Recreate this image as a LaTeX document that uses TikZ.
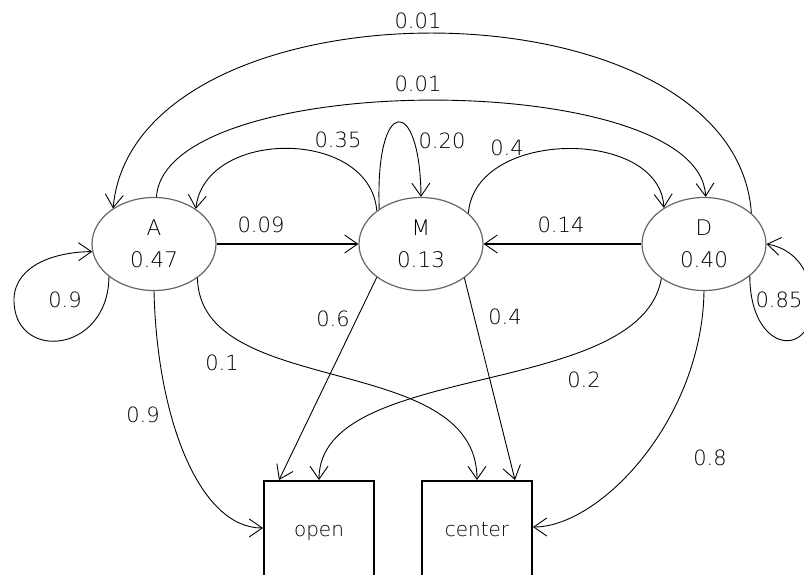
\documentclass[tikz,border=0pt]{standalone}
\usepackage{fontspec}
\setmainfont{DejaVu Sans ExtraLight}
\usetikzlibrary{shapes.geometric,arrows.meta}
\begin{document}
\begin{tikzpicture}[x=1pt,y=-1pt,
  st/.style={ellipse, draw=black!60, line width=1.2pt, fill=white, minimum width=124pt, minimum height=93pt, inner sep=0pt, align=center, font=\fontsize{21.5}{32}\selectfont},
  bx/.style={rectangle, draw=black, line width=2pt, minimum width=110pt, minimum height=100pt, inner sep=0pt, text height=11pt, text depth=0pt, font=\fontsize{20}{24}\selectfont},
  lbl/.style={inner sep=0pt, font=\fontsize{21}{24}\selectfont},
  tip/.style={-{Straight Barb[length=13pt,width=18pt,line width=0.9pt]}},
  edge/.style={line width=0.9pt, tip},
  thickedge/.style={line width=2pt, tip}
]
\clip (0,0) rectangle (804,574);
\fill[white] (0,0) rectangle (804,574);
% states
\node[st] (A) at (154,244) {A\\0.47};
\node[st] (M) at (421,244) {M\\0.13};
\node[st] (D) at (704,244) {D\\0.40};
% outputs
\node[bx] (open) at (319,531) {open};
\node[bx] (center) at (477,531) {center};
% transitions
\draw[thickedge] (A.east) -- (M.west);
\draw[thickedge] (D.west) -- (M.east);
\draw[edge] (D.33) .. controls (735,-26) and (135,-26) .. (A.139);
\draw[edge] (A.87) .. controls (165,68) and (700,68) .. (D.88);
\draw[edge] (M.143) .. controls (370,128) and (205,128) .. (A.40);
\draw[edge] (M.140) .. controls (375,95) and (420,95) .. (M.90);
\draw[edge] (M.33) .. controls (475,128) and (660,128) .. (D.138);
\draw[edge] (A.216) .. controls (108,355) and (12,362) .. (14,298) .. controls (16,265) and (55,252) .. (A.187);
\draw[edge] (D.325) .. controls (750,355) and (815,360) .. (812,300) .. controls (810,265) and (790,248) .. (D.east);
% emissions
\draw[edge] (A.south) .. controls (157,420) and (200,528) .. ([yshift=3pt]open.west);
\draw[edge] (A.322) .. controls (200,400) and (477,350) .. (center.north);
\draw[edge] (D.219) .. controls (640,400) and (319,360) .. (open.north);
\draw[edge] (D.south) .. controls (702,420) and (600,527) .. ([yshift=4pt]center.east);
\draw[edge] (M.217) -- ([xshift=16pt]open.north west);
\draw[edge] (M.322) -- ([xshift=-18pt]center.north east);
% labels
\node[lbl] (l1) at (418,21) {0.01};
\node[lbl] (l2) at (418,84) {0.01};
\node[lbl] (l3) at (338,140) {0.35};
\node[lbl] (l4) at (442,141) {0.20};
\node[lbl] (l5) at (507,148) {0.4};
\node[lbl] (l6) at (261,225) {0.09};
\node[lbl] (l7) at (561,225) {0.14};
\node[lbl] (l8) at (65,300) {0.9};
\node[lbl] (l9) at (779,300) {0.85};
\node[lbl] (l10) at (333,319) {0.6};
\node[lbl] (l11) at (505,317) {0.4};
\node[lbl] (l12) at (222,363) {0.1};
\node[lbl] (l13) at (584,380) {0.2};
\node[lbl] (l14) at (143,415) {0.9};
\node[lbl] (l15) at (710,458) {0.8};
\end{tikzpicture}
\end{document}
